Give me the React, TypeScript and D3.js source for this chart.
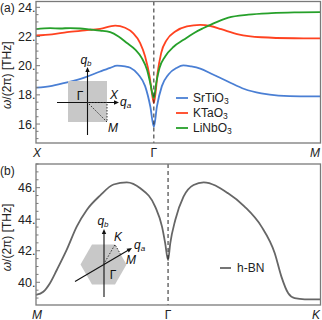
import React from "react";
import * as d3 from "d3";

// panel (a): k along X-Γ-M path, units of 2π/a
const kA = [0, 0.5, 1.2071];
const kALabels = ["X", "Γ", "M"];
const srK = [0, 0.068, 0.132, 0.208, 0.272, 0.315, 0.344, 0.378, 0.4, 0.434, 0.463, 0.485, 0.5, 0.513, 0.534, 0.562, 0.598, 0.625, 0.659, 0.697, 0.744, 0.816, 0.884, 0.956, 1.029, 1.122, 1.207];
const srW = [18.49, 18.62, 18.85, 19.2, 19.6, 19.85, 20.0, 19.95, 19.86, 19.4, 18.6, 17.2, 15.8, 17.2, 18.6, 19.4, 19.86, 20.02, 19.95, 19.8, 19.45, 18.9, 18.4, 18.1, 17.95, 17.9, 17.9];
const ktK = [0, 0.068, 0.132, 0.208, 0.272, 0.336, 0.378, 0.412, 0.442, 0.463, 0.482, 0.492, 0.5, 0.507, 0.516, 0.531, 0.555, 0.591, 0.64, 0.697, 0.74, 0.786, 0.858, 0.956, 1.096, 1.207];
const ktW = [22.07, 22.15, 22.3, 22.42, 22.53, 22.75, 22.6, 22.23, 21.55, 20.63, 19.26, 18.1, 17.44, 18.1, 19.5, 20.86, 21.77, 22.34, 22.69, 22.8, 22.72, 22.5, 22.15, 21.95, 21.88, 21.87];
const lnK = [0, 0.06, 0.102, 0.145, 0.187, 0.23, 0.272, 0.315, 0.35, 0.386, 0.421, 0.449, 0.471, 0.485, 0.5, 0.51, 0.524, 0.548, 0.584, 0.626, 0.669, 0.711, 0.74, 0.816, 0.901, 0.999, 1.096, 1.207];
const lnW = [22.5, 22.57, 22.55, 22.58, 22.55, 22.48, 22.41, 22.3, 22.0, 21.55, 21.1, 20.52, 19.72, 18.8, 17.78, 18.8, 19.84, 20.63, 21.3, 21.77, 22.23, 22.58, 22.8, 23.3, 23.5, 23.6, 23.65, 23.67];

// panel (b): k along M-Γ-K path
const kB = [0, 0.5774, 1.244];
const kBLabels = ["M", "Γ", "K"];
const bnK = [0, 0.032, 0.061, 0.091, 0.134, 0.178, 0.222, 0.28, 0.339, 0.397, 0.456, 0.521, 0.551, 0.565, 0.5774, 0.587, 0.609, 0.645, 0.689, 0.733, 0.84, 0.912, 0.986, 1.044, 1.073, 1.103, 1.131, 1.175, 1.244];
const bnW = [39.2, 39.4, 39.94, 40.78, 42.05, 43.53, 44.59, 45.5, 46.2, 46.34, 45.96, 44.8, 43.53, 42.47, 41.4, 42.47, 43.95, 45.43, 46.17, 46.34, 45.64, 44.8, 43.53, 41.84, 40.36, 39.3, 38.99, 38.92, 38.92];

const ticksA = [16, 18, 20, 22, 24];
const ticksB = [40, 42, 44, 46];

const FONT = "Liberation Sans, Arial, sans-serif";
const AXIS = "#7a7a7a";

type Series = { name: string; k: number[]; w: number[]; color: string };

function Panel({ top, bottom, kNodes, kLabels, yDomain, majors, minorFrom, minorTo, series, tag, children }: any) {
  const left = 36, right = 320.5;
  const x = d3.scaleLinear().domain([kNodes[0], kNodes[2]]).range([left, right]);
  const y = d3.scaleLinear().domain(yDomain).range([bottom, top]);
  const line = d3.line<[number, number]>().x(d => x(d[0])).y(d => y(d[1])).curve(d3.curveMonotoneX);
  const minors = d3.range(minorFrom, minorTo + 0.001, 0.5);
  return (
    <g>
      {series.map((s: Series) => (
        <path key={s.name} d={line(s.k.map((k, i) => [k, s.w[i]] as [number, number])) || ""} fill="none" stroke={s.color} strokeWidth={1.8} />
      ))}
      <line x1={x(kNodes[1])} x2={x(kNodes[1])} y1={top} y2={bottom} stroke="#222" strokeWidth={1} strokeDasharray="4,3" />
      <rect x={left} y={top} width={right - left} height={bottom - top} fill="none" stroke={AXIS} strokeWidth={1.3} />
      {minors.map(v => {
        const major = majors.includes(v);
        return <line key={v} x1={left} x2={left + (major ? 4 : 2.5)} y1={y(v)} y2={y(v)} stroke={AXIS} strokeWidth={1} />;
      })}
      {majors.map((v: number) => (
        <text key={v} x={left - 0.5} y={y(v) + 4.5} textAnchor="end" fontSize={12.5} fontFamily={FONT} fill="#222">{v}.</text>
      ))}
      {kNodes.map((k: number, i: number) => (
        <text key={i} x={i === 2 ? 320 : x(k) + (i === 0 ? 1 : 0)} y={bottom + 13.5} textAnchor={i === 2 ? "end" : "middle"} fontSize={12} fontFamily={FONT} fill="#222" fontStyle={kLabels[i] === "Γ" ? "normal" : "italic"}>{kLabels[i]}</text>
      ))}
      <text transform={`translate(11,${(top + bottom) / 2 + 3}) rotate(-90)`} textAnchor="middle" fontSize={12} fontFamily={FONT} fill="#222">
        <tspan fontStyle="italic">ω</tspan>/(2π) [THz]
      </text>
      <text x={0} y={top + 10.5} fontSize={12} fontFamily={FONT} fill="#222">{tag}</text>
      {children}
    </g>
  );
}

function Arrow({ x1, y1, x2, y2 }: any) {
  const a = Math.atan2(y2 - y1, x2 - x1);
  const L = 5, W = 2.2;
  const p1 = [x2 - L * Math.cos(a) + W * Math.sin(a), y2 - L * Math.sin(a) - W * Math.cos(a)];
  const p2 = [x2 - L * Math.cos(a) - W * Math.sin(a), y2 - L * Math.sin(a) + W * Math.cos(a)];
  return (
    <g>
      <line x1={x1} y1={y1} x2={x2 - 3 * Math.cos(a)} y2={y2 - 3 * Math.sin(a)} stroke="#111" strokeWidth={1.1} />
      <polygon points={`${x2},${y2} ${p1[0]},${p1[1]} ${p2[0]},${p2[1]}`} fill="#111" />
    </g>
  );
}

const itext = { fontSize: 12, fontFamily: FONT, fill: "#111" };

export default function App() {
  const seriesA: Series[] = [
    { name: "SrTiO", k: srK, w: srW, color: "#4a7fd4" },
    { name: "KTaO", k: ktK, w: ktW, color: "#ff4220" },
    { name: "LiNbO", k: lnK, w: lnW, color: "#26a02a" },
  ];
  const seriesB: Series[] = [{ name: "h-BN", k: bnK, w: bnW, color: "#666666" }];

  // hexagon inset
  const hc = [103.5, 264.5], hr = 23;
  const hex = d3.range(6).map(i => [hc[0] + hr * Math.cos((i * Math.PI) / 3), hc[1] - hr * Math.sin((i * Math.PI) / 3)]);
  const kPt = hex[1];
  const mPt = [hc[0] + hr * 0.866 * Math.cos(Math.PI / 6), hc[1] - hr * 0.866 * Math.sin(Math.PI / 6)];

  return (
    <svg width={322} height={320} style={{ position: "absolute", left: 0, top: 0, background: "#fff" }}>
      <Panel top={1.5} bottom={143} kNodes={kA} kLabels={kALabels} yDomain={[14.7, 24.4]} majors={ticksA} minorFrom={15} minorTo={24} series={seriesA} tag="(a)">
        {/* square BZ inset */}
        <rect x={68} y={81} width={39} height={41} fill="#c8c8c8" />
        <Arrow x1={57} y1={102.5} x2={119} y2={102.5} />
        <Arrow x1={87.5} y1={135} x2={87.5} y2={67} />
        <path d="M87.5,102.5 L107,102.5 L107,122 Z" fill="none" stroke="#333" strokeWidth={1} strokeDasharray="1.5,1.5" />
        <text x={80} y={100} textAnchor="middle" {...itext}>Γ</text>
        <text x={114} y={99} textAnchor="middle" {...itext} fontStyle="italic">X</text>
        <text x={113} y={132} textAnchor="middle" {...itext} fontStyle="italic">M</text>
        <text x={86} y={64} textAnchor="middle" {...itext} fontStyle="italic">q<tspan fontSize={8} dy={2}>b</tspan></text>
        <text x={120} y={106} {...itext} fontStyle="italic">q<tspan fontSize={8} dy={2}>a</tspan></text>
        {seriesA.map((s, i) => (
          <g key={s.name}>
            <line x1={176} x2={188} y1={98 + i * 15} y2={98 + i * 15} stroke={s.color} strokeWidth={1.8} />
            <text x={193} y={102 + i * 15} fontSize={12} fontFamily={FONT} fill="#222">{s.name}<tspan fontSize={8.5} dy={2}>3</tspan></text>
          </g>
        ))}
      </Panel>
      <Panel top={164} bottom={305} kNodes={kB} kLabels={kBLabels} yDomain={[38.56, 47.5]} majors={ticksB} minorFrom={39} minorTo={47.5} series={seriesB} tag="(b)">
        <polygon points={hex.map(p => p.join(",")).join(" ")} fill="#c8c8c8" />
        <Arrow x1={104} y1={297} x2={104} y2={229} />
        <Arrow x1={75} y1={281.5} x2={132} y2={248} />
        <path d={`M${hc[0]},${hc[1]} L${kPt[0]},${kPt[1]} L${mPt[0]},${mPt[1]}`} fill="none" stroke="#333" strokeWidth={1} strokeDasharray="1.5,1.5" />
        <text x={113} y={279} textAnchor="middle" {...itext}>Γ</text>
        <text x={118} y={241} textAnchor="middle" {...itext} fontStyle="italic">K</text>
        <text x={131} y={264} textAnchor="middle" {...itext} fontStyle="italic">M</text>
        <text x={103} y={225} textAnchor="middle" {...itext} fontStyle="italic">q<tspan fontSize={8} dy={2}>b</tspan></text>
        <text x={134} y={249} {...itext} fontStyle="italic">q<tspan fontSize={8} dy={2}>a</tspan></text>
        <line x1={220} x2={231} y1={268} y2={268} stroke="#666" strokeWidth={1.8} />
        <text x={237} y={272} fontSize={12} fontFamily={FONT} fill="#222">h-BN</text>
      </Panel>
    </svg>
  );
}
